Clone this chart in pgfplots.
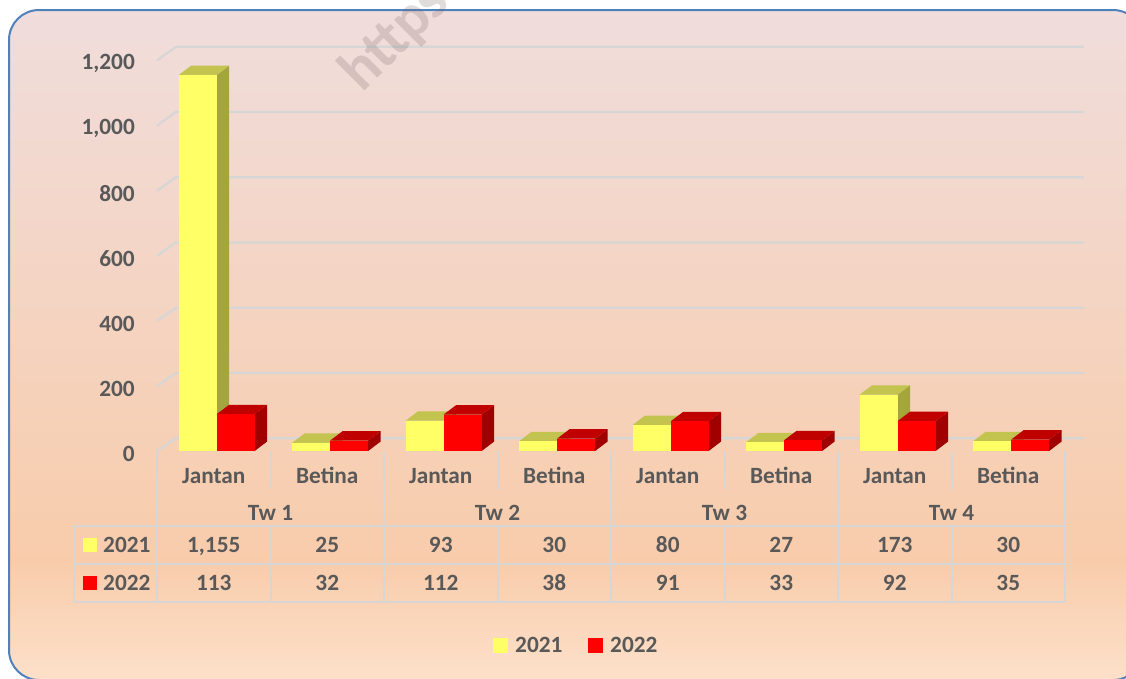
\documentclass[border=0pt]{standalone}
\usepackage{pgfplots}
\pgfplotsset{compat=1.18}
\usepackage{pgfplotstable}
\usepackage{fontspec}
\setmainfont{Carlito}
\definecolor{txt}{HTML}{595959}
\definecolor{gridc}{HTML}{D6D6D6}
\definecolor{bordc}{HTML}{4F81BD}
\definecolor{bgtop}{HTML}{F0DDDC}
\definecolor{bgmid}{HTML}{F8CCAB}
\definecolor{bgbot}{HTML}{FDE0CA}
\definecolor{yfront}{HTML}{FFFF66}
\definecolor{ytop}{HTML}{C3C34F}
\definecolor{yside}{HTML}{A5A53F}
\definecolor{rfront}{HTML}{FF0000}
\definecolor{rtop}{HTML}{C00000}
\definecolor{rside}{HTML}{A00000}
\definecolor{wm}{HTML}{786464}
\pgfdeclareverticalshading{bgshade}{100bp}{color(0bp)=(bgbot); color(25bp)=(bgbot); color(34bp)=(bgmid); color(75bp)=(bgtop); color(100bp)=(bgtop)}

\pgfplotstableread{
idx a b
0 1155 113
1 25 32
2 93 112
3 30 38
4 80 91
5 27 33
6 173 92
7 30 35
}\datatable

\newcommand\drawbar[7]{%
  \pgfmathsetmacro\L{#1+#3}%
  \pgfmathsetmacro\R{#1+#4}%
  \pgfmathsetmacro\Rd{\R+0.11}%
  \pgfmathsetmacro\Ld{\L+0.11}%
  \pgfmathsetmacro\V{#2}%
  \pgfmathsetmacro\Vd{#2+29}%
  \edef\tmp{%
    \noexpand\addplot[fill=#7, draw=none] coordinates {(\R,0) (\Rd,29) (\Rd,\Vd) (\R,\V)};
    \noexpand\addplot[fill=#6, draw=none] coordinates {(\L,\V) (\R,\V) (\Rd,\Vd) (\Ld,\Vd)};
    \noexpand\addplot[fill=#5, draw=none] coordinates {(\L,0) (\R,0) (\R,\V) (\L,\V)};
  }\tmp}

\tikzset{lab/.style={font=\bfseries\fontsize{23.3}{28}\selectfont, text=txt, inner sep=0pt, text height=14.7pt, text depth=0pt}}

\begin{document}
\begin{tikzpicture}[x=1pt,y=-1pt]
\useasboundingbox (0,0) rectangle (1126,678);
\clip (0,0) rectangle (1126,678);
\fill[white] (0,0) rectangle (1126,678);
\path[rounded corners=30pt, shading=bgshade] (9,10) rectangle (1143,680);
\draw[bordc, line width=2pt, rounded corners=30pt] (9,10) rectangle (1143,680);

\begin{axis}[
  at={(157pt,-451pt)}, anchor=south west,
  scale only axis, width=908pt, height=390.5pt,
  xmin=-0.5, xmax=7.5, ymin=0, ymax=1200,
  clip=false,
  axis line style={draw=none},
  xtick=\empty,
  ytick={0,200,400,600,800,1000,1200},
  major tick length=0pt,
  /pgf/number format/assume math mode=true,
  /pgf/number format/1000 sep={,},
  yticklabel style={font=\bfseries\fontsize{23.3}{28}\selectfont, text=txt, anchor=east, inner sep=0pt, xshift=-22pt, yshift=-3pt},
]
% back wall gridlines with left side wall
\addplot[gridc, line width=2.2pt] coordinates {(-0.5,0) (-0.333,39) (7.667,39)};
\addplot[gridc, line width=2.2pt] coordinates {(-0.5,200) (-0.333,240) (7.667,240)};
\addplot[gridc, line width=2.2pt] coordinates {(-0.5,400) (-0.333,440) (7.667,440)};
\addplot[gridc, line width=2.2pt] coordinates {(-0.5,600) (-0.333,641) (7.667,641)};
\addplot[gridc, line width=2.2pt] coordinates {(-0.5,800) (-0.333,841) (7.667,841)};
\addplot[gridc, line width=2.2pt] coordinates {(-0.5,1000) (-0.333,1042) (7.667,1042)};
\addplot[gridc, line width=2.2pt] coordinates {(-0.5,1200) (-0.333,1242) (7.667,1242)};
\pgfplotsinvokeforeach{0,...,7}{%
  \pgfplotstablegetelem{#1}{a}\of\datatable \let\va\pgfplotsretval
  \pgfplotstablegetelem{#1}{b}\of\datatable \let\vb\pgfplotsretval
  \drawbar{#1}{\va}{-0.31}{0.025}{yfront}{ytop}{yside}%
  \drawbar{#1}{\vb}{0.025}{0.36}{rfront}{rtop}{rside}%
}
\end{axis}

% data table grid
\begin{scope}[gridc, line width=2pt]
\foreach \x in {157,384,611,838,1065} \draw (\x,451) -- (\x,602);
\foreach \x in {270.5,497.5,724.5,951.5} {\draw (\x,451) -- (\x,489); \draw (\x,526) -- (\x,602);}
\draw (74,526) -- (1065,526);
\draw (74,564) -- (1065,564);
\draw (74,602) -- (1065,602);
\draw (74,526) -- (74,602);
\end{scope}

% category labels
\foreach \x/\t in {213.75/Jantan,327.25/Betina,440.75/Jantan,554.25/Betina,667.75/Jantan,781.25/Betina,894.75/Jantan,1008.25/Betina}
  \node[lab] at (\x,476.5) {\t};
\foreach \x/\t in {270.5/Tw 1,497.5/Tw 2,724.5/Tw 3,951.5/Tw 4}
  \node[lab] at (\x,513) {\t};
% table values
\foreach \x/\t in {213.75/{1,155},327.25/25,440.75/93,554.25/30,667.75/80,781.25/27,894.75/173,1008.25/30}
  \node[lab] at (\x,545.5) {\t};
\foreach \x/\t in {213.75/113,327.25/32,440.75/112,554.25/38,667.75/91,781.25/33,894.75/92,1008.25/35}
  \node[lab] at (\x,583.5) {\t};
% row headers
\fill[yfront] (83,538) rectangle (97,552);
\node[lab, anchor=west] at (103,545.5) {2021};
\fill[rfront] (83,576) rectangle (97,590);
\node[lab, anchor=west] at (103,583.5) {2022};
% legend
\fill[yfront] (493,638) rectangle (508,653);
\node[lab, anchor=west] at (515,645.5) {2021};
\fill[rfront] (588,638) rectangle (603,653);
\node[lab, anchor=west] at (610,645.5) {2022};
% watermark
\node[font=\bfseries\fontsize{60}{70}\selectfont, text=wm, opacity=0.22, rotate=45, anchor=base west, inner sep=0pt] at (362,94) {https};
\end{tikzpicture}
\end{document}
